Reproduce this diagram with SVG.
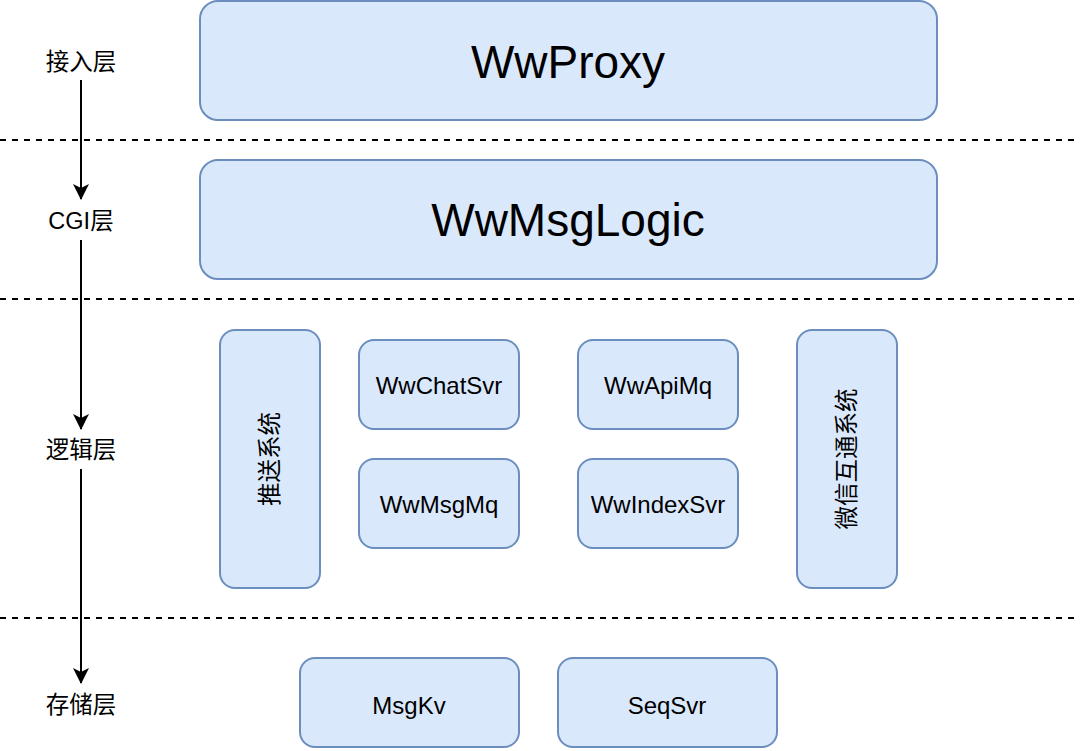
<svg xmlns="http://www.w3.org/2000/svg" width="1080" height="751" viewBox="0 0 1080 751">
<style>
.box{fill:#dae8fc;stroke:#6c8ebf;stroke-width:2}
.t{font-family:"Liberation Sans",Arial,"Noto Sans CJK SC",sans-serif;fill:#000;text-anchor:middle;dominant-baseline:central}
.big{font-size:46px}
.sm{font-size:24px}
.cn{font-family:"Liberation Sans","Noto Sans CJK SC",sans-serif;font-size:23.5px;fill:#000;text-anchor:middle;dominant-baseline:central}
.dash{stroke:#000;stroke-width:2;stroke-dasharray:6 6;fill:none}
.arr{stroke:#000;stroke-width:2;fill:none}
</style>
<defs>
<marker id="ah" viewBox="0 0 16 16" refX="15" refY="8" markerWidth="16" markerHeight="16" markerUnits="userSpaceOnUse" orient="auto">
<path d="M0,0 L16,8 L0,16 L4,8 Z" fill="#000"/>
</marker>
</defs>
<rect width="1080" height="751" fill="#fff"/>
<g id="separators">
<line class="dash" x1="0" y1="140" x2="1074" y2="140"/>
<line class="dash" x1="0" y1="299" x2="1074" y2="299"/>
<line class="dash" x1="0" y1="618" x2="1074" y2="618"/>
</g>
<g id="layer-labels">
<text class="cn" x="81" y="62">接入层</text>
<text class="cn" x="81" y="221">CGI层</text>
<text class="cn" x="81" y="450">逻辑层</text>
<text class="cn" x="81" y="705">存储层</text>
</g>
<g id="connectors">
<line class="arr" x1="81" y1="80" x2="81" y2="199" marker-end="url(#ah)"/>
<line class="arr" x1="81" y1="240" x2="81" y2="429" marker-end="url(#ah)"/>
<line class="arr" x1="81" y1="469" x2="81" y2="683" marker-end="url(#ah)"/>
</g>
<g id="WwProxy">
<rect class="box" x="200" y="1" width="737" height="119" rx="18"/>
<text class="t big" x="568" y="62">WwProxy</text>
</g>
<g id="WwMsgLogic">
<rect class="box" x="200" y="160" width="737" height="119" rx="18"/>
<text class="t big" x="568" y="220">WwMsgLogic</text>
</g>
<g id="push">
<rect class="box" x="220" y="330" width="100" height="258" rx="15"/>
<text class="cn" transform="translate(270,459) rotate(-90)">推送系统</text>
</g>
<g id="WwChatSvr">
<rect class="box" x="359" y="340" width="160" height="89" rx="15"/>
<text class="t sm" x="439" y="385">WwChatSvr</text>
</g>
<g id="WwMsgMq">
<rect class="box" x="359" y="459" width="160" height="89" rx="15"/>
<text class="t sm" x="439" y="504">WwMsgMq</text>
</g>
<g id="WwApiMq">
<rect class="box" x="578" y="340" width="160" height="89" rx="15"/>
<text class="t sm" x="658" y="385">WwApiMq</text>
</g>
<g id="WwIndexSvr">
<rect class="box" x="578" y="459" width="160" height="89" rx="15"/>
<text class="t sm" x="658" y="504">WwIndexSvr</text>
</g>
<g id="wechat">
<rect class="box" x="797" y="330" width="100" height="258" rx="15"/>
<text class="cn" transform="translate(847,459) rotate(-90)">微信互通系统</text>
</g>
<g id="MsgKv">
<rect class="box" x="300" y="658" width="219" height="89" rx="15"/>
<text class="t sm" x="409" y="705">MsgKv</text>
</g>
<g id="SeqSvr">
<rect class="box" x="558" y="658" width="219" height="89" rx="15"/>
<text class="t sm" x="667" y="705">SeqSvr</text>
</g>
</svg>
